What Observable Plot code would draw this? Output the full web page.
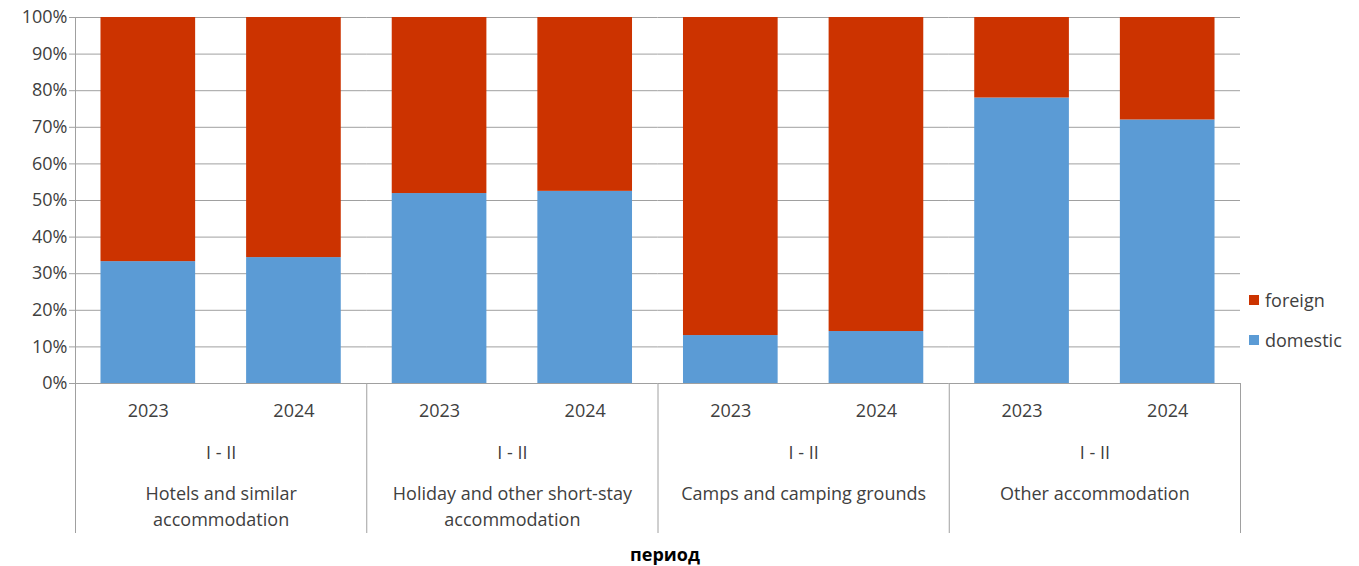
<!DOCTYPE html>
<html><head><meta charset="utf-8">
<script src="https://cdn.jsdelivr.net/npm/d3@7"></script>
<script src="https://cdn.jsdelivr.net/npm/@observablehq/plot@0.6"></script>
<style>
body{margin:0;background:#fff;font-family:"Open Sans",sans-serif;color:#404040;}
#wrap{position:relative;width:1359px;height:566px;overflow:hidden;}
#caption{position:absolute;left:75px;width:1180px;top:542px;text-align:center;font-weight:bold;font-size:18px;color:#000;}
.legend{position:absolute;left:1249px;top:287px;font-size:18px;color:#404040;}
.legend div{display:flex;align-items:center;height:26px;margin-bottom:14px;}
.legend span.sw{display:inline-block;width:10px;height:10px;margin-right:6px;}
</style></head><body>
<div id="wrap"><div id="chart"></div><div id="caption">период</div><div class="legend" id="legend"></div></div>
<script>
const categories = ["Hotels", "Holiday", "Camps", "Other"];
const categoryLabels = ["Hotels and similar\naccommodation", "Holiday and other short-stay\naccommodation", "Camps and camping grounds", "Other accommodation"];
const years = ["2023", "2024"];
const period = "I - II";
const domestic = [33.3, 34.4, 51.9, 52.5, 13.1, 14.2, 78.0, 72.0];
const foreign  = [66.7, 65.6, 48.1, 47.5, 86.9, 85.8, 22.0, 28.0];
const seriesNames = ["domestic", "foreign"];
const seriesColors = ["#5B9BD5", "#CC3300"];
const yTicks = [0, 10, 20, 30, 40, 50, 60, 70, 80, 90, 100];
const axisTitle = "период";

const rows = [];
[domestic, foreign].forEach((vals, s) => {
  categories.forEach((c, i) => years.forEach((yr, j) => {
    rows.push({category: c, year: yr, type: seriesNames[s], value: vals[i * years.length + j]});
  }));
});

const W = 1359, H = 540, ml = 75, mr = 119, mt = 17, mb = 157;
const plotH = H - mt - mb;
const facetW = (W - ml - mr) / categories.length;
const below = 150;
const lineColor = "#a0a0a0";
const fs = 18;

const chart = Plot.plot({
  width: W, height: H,
  marginLeft: ml, marginRight: mr, marginTop: mt, marginBottom: mb,
  style: {fontFamily: "Open Sans", fontSize: fs + "px", color: "#404040", background: "#fff"},
  fx: {domain: categories, padding: 0, round: false, axis: null, label: null},
  x: {domain: years, paddingInner: 0.35, paddingOuter: 0.175, round: false, axis: null, label: null},
  y: {domain: [0, 100], label: null},
  color: {domain: seriesNames, range: seriesColors},
  marks: [
    Plot.gridY(yTicks, {stroke: lineColor, strokeOpacity: 1}),
    Plot.barY(rows, {fx: "category", x: "year", y: "value", fill: "type"}),
    Plot.axisY({ticks: yTicks, tickFormat: d => d + "%", tickSize: 6, tickPadding: 2, stroke: lineColor, strokeOpacity: 1, fill: "#404040", fontSize: fs, label: null}),
    Plot.ruleX([categories[0]], {fx: d => d, x: () => years[0], dx: -facetW / 4, insetBottom: -below, stroke: lineColor}),
    Plot.ruleX(categories, {fx: d => d, x: () => years[0], dx: -facetW / 4, insetTop: plotH, insetBottom: -below, stroke: lineColor}),
    Plot.ruleX([categories[categories.length - 1]], {fx: d => d, x: () => years[years.length - 1], dx: facetW / 4, insetTop: plotH, insetBottom: -below, stroke: lineColor}),
    Plot.text(rows.filter(r => r.type === seriesNames[0]), {fx: "category", x: "year", text: "year", frameAnchor: "bottom", dy: 33, fontSize: fs, fill: "#404040"}),
    Plot.text(categories, {fx: d => d, text: () => period, frameAnchor: "bottom", dy: 75, fontSize: fs, fill: "#404040"}),
    Plot.text(categories, {fx: d => d, text: (d) => categoryLabels[categories.indexOf(d)], frameAnchor: "bottom", lineAnchor: "top", dy: 98, lineHeight: 1.45, fontSize: fs, fill: "#404040"})
  ]
});
document.getElementById("chart").appendChild(chart);
document.getElementById("caption").textContent = axisTitle;

const legend = document.getElementById("legend");
[1, 0].forEach(i => {
  const d = document.createElement("div");
  d.innerHTML = `<span class="sw" style="background:${seriesColors[i]}"></span><span>${seriesNames[i]}</span>`;
  legend.appendChild(d);
});
</script>
</body></html>
